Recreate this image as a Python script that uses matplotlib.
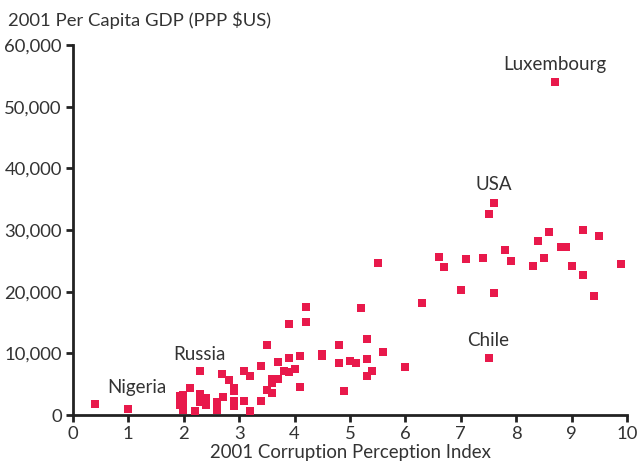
import matplotlib
matplotlib.use("Agg")
import matplotlib.pyplot as plt
from matplotlib.ticker import FuncFormatter

cpi = [0.4, 1.0,
       1.93, 1.99, 1.93, 1.99, 1.93, 1.99, 1.99,
       2.11, 2.2, 2.29, 2.29, 2.29, 2.4, 2.4,
       2.6, 2.6, 2.69, 2.7, 2.82,
       2.91, 2.91, 2.91, 2.91,
       3.09, 3.09, 3.2, 3.2, 3.39, 3.39,
       3.5, 3.5, 3.6, 3.6, 3.6, 3.7, 3.7,
       3.8, 3.9, 3.9, 3.9, 4.0, 4.1, 4.1,
       4.2, 4.2, 4.5, 4.5, 4.8, 4.8, 4.9,
       5.0, 5.1, 5.2, 5.3, 5.3, 5.3, 5.4,
       5.5, 5.6, 6.0, 6.3,
       6.6, 6.7, 7.0, 7.1, 7.4, 7.5, 7.5, 7.6, 7.6,
       7.8, 7.9, 8.3, 8.4, 8.5, 8.6, 8.7,
       8.8, 8.9, 9.0, 9.2, 9.2, 9.4, 9.5, 9.9]
gdp_k = [1.8, 1.0,
         3.1, 3.2, 2.4, 2.4, 1.6, 1.6, 0.8,
         4.4, 0.7, 7.1, 3.4, 2.1, 2.7, 1.6,
         2.1, 0.8, 6.6, 2.9, 5.7,
         4.4, 3.9, 2.3, 1.5,
         7.1, 2.3, 6.4, 0.7, 7.9, 2.3,
         11.3, 4.0, 5.9, 5.2, 3.5, 5.8, 8.6,
         7.1, 7.0, 9.3, 14.8, 7.5, 9.5, 4.6,
         17.5, 15.1, 9.9, 9.6, 11.3, 8.5, 3.9,
         8.8, 8.4, 17.3, 12.4, 9.1, 6.4, 7.1,
         24.6, 10.2, 7.8, 18.2,
         25.6, 24.0, 20.2, 25.3, 25.5, 32.6, 9.3, 34.4, 19.8,
         26.8, 24.9, 24.2, 28.2, 25.5, 29.7, 54.0,
         27.3, 27.3, 24.2, 30.0, 22.7, 19.3, 29.1, 24.5]
gdp = [v * 1000 for v in gdp_k]

label_names = ["Luxembourg", "USA", "Chile", "Russia", "Nigeria"]
label_x = [8.7, 7.6, 7.5, 2.29, 1.15]
label_y = [56800, 37300, 12000, 9850, 4400]

x_ticks = list(range(0, 11))
y_ticks = [0, 10000, 20000, 30000, 40000, 50000, 60000]

plt.rcParams['font.family'] = ['Lato', 'DejaVu Sans']
fig = plt.figure(figsize=(6.37, 4.69), dpi=100)
ax = fig.add_axes([73/637, 1 - 415/469, (627-73)/637, (415-45)/469])

ax.scatter(cpi, gdp, marker='s', s=28, color='#E8194B', linewidths=0, zorder=3)

for n, x, y in zip(label_names, label_x, label_y):
    ax.text(x, y, n, ha='center', va='center', fontsize=13.5, color='#333333')

ax.set_xlim(0, 10)
ax.set_ylim(0, 60000)
ax.set_xticks(x_ticks)
ax.set_yticks(y_ticks)
ax.yaxis.set_major_formatter(FuncFormatter(lambda v, p: f"{int(v):,}"))
for s in ['top', 'right']:
    ax.spines[s].set_visible(False)
for s in ['left', 'bottom']:
    ax.spines[s].set_linewidth(2)
    ax.spines[s].set_color('#222222')
ax.tick_params(axis='both', direction='out', width=2, length=5, color='#222222',
               labelsize=13.3, labelcolor='#333333', pad=3)
ax.set_xlabel("2001 Corruption Perception Index", fontsize=13.4, color='#333333', labelpad=1)
fig.text(8/637, 1 - 20/469, "2001 Per Capita GDP (PPP $US)", fontsize=13.3,
         color='#333333', ha='left', va='center')

fig.savefig("out.png", dpi=100)
